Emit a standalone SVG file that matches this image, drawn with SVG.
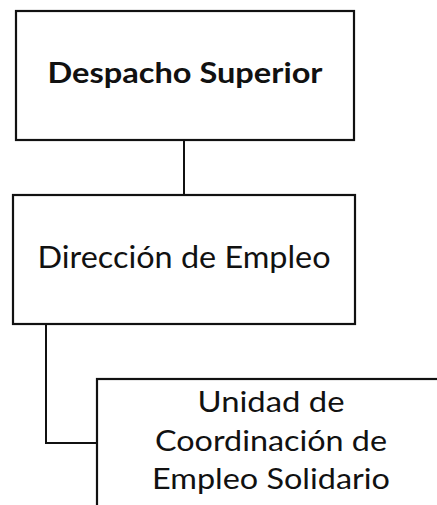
<svg xmlns="http://www.w3.org/2000/svg" width="437" height="505" viewBox="0 0 437 505">
<style>
.box{fill:#fff;stroke:#111;stroke-width:2.2}
.con{fill:none;stroke:#111;stroke-width:2}
text{font-family:Lato,"Open Sans",sans-serif;fill:#111;text-anchor:middle}
.b{font-weight:bold;font-size:29px}
.r{font-size:30px}
.s{font-size:28px}
</style>
<rect width="437" height="505" fill="#fff"/>
<g id="connectors">
<path class="con" d="M184 140 V195"/>
<path class="con" d="M46 324 V443 H97"/>
</g>
<g id="despacho">
<rect class="box" x="16" y="11" width="338" height="129"/>
<text class="b" x="185" y="83" textLength="275" lengthAdjust="spacingAndGlyphs">Despacho Superior</text>
</g>
<g id="direccion">
<rect class="box" x="13" y="195" width="342" height="129"/>
<text class="r" x="184" y="268" textLength="293" lengthAdjust="spacingAndGlyphs">Dirección de Empleo</text>
</g>
<g id="unidad">
<rect class="box" x="97" y="379" width="360" height="150"/>
<text class="s" x="271" y="412" textLength="147" lengthAdjust="spacingAndGlyphs">Unidad de</text>
<text class="s" x="271" y="451" textLength="232" lengthAdjust="spacingAndGlyphs">Coordinación de</text>
<text class="s" x="271" y="489" textLength="238" lengthAdjust="spacingAndGlyphs">Empleo Solidario</text>
</g>
</svg>
